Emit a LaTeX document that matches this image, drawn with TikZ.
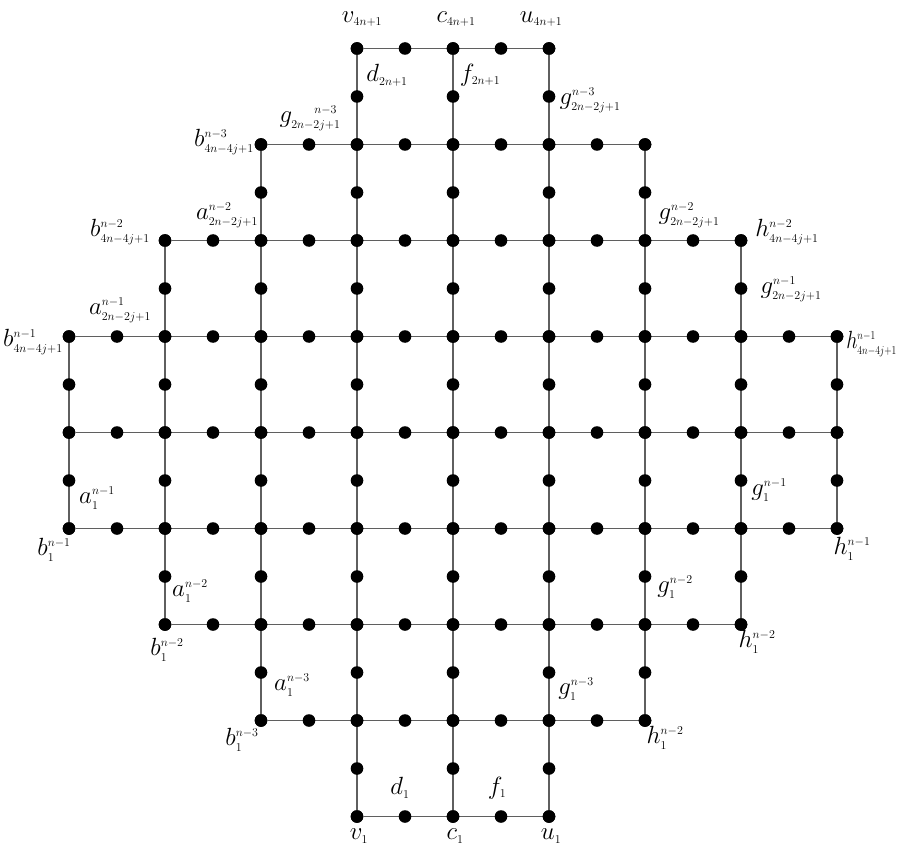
\documentclass[tikz,border=0pt]{standalone}
\usepackage{graphicx}
\DeclareMathSizes{24.88}{24.88}{12}{10}
\pgfdeclarelayer{bg}
\pgfsetlayers{bg,main}
\definecolor{edgecol}{RGB}{95,95,95}
\begin{document}
\begin{tikzpicture}[x=1pt,y=-1pt,
  dot/.style={circle,fill=black,draw=none,inner sep=0pt,minimum size=12.6pt},
  edge/.style={draw=edgecol,line width=1.25pt},
  lab/.style={inner sep=0pt,font=\fontsize{24.88}{28}\selectfont}]
\useasboundingbox (0,0) rectangle (897,845);
% dots
\foreach \k/\a/\b in {0/3/5,1/2/6,2/1/7,3/0/8,4/0/8,5/0/8,6/1/7,7/2/6,8/3/5}{
  \pgfmathtruncatemacro\Ia{2*\a}
  \pgfmathtruncatemacro\Ib{2*\b}
  \pgfmathtruncatemacro\K{2*\k}
  \foreach \I in {\Ia,...,\Ib}{
    \node[dot] (d-\I-\K) at ({69+48*\I},{48.5+48*\K}) {};
    \node[dot] (d-\K-\I) at ({69+48*\K},{48.5+48*\I}) {};
  }
}
% lines
\begin{pgfonlayer}{bg}
\foreach \k/\a/\b in {0/3/5,1/2/6,2/1/7,3/0/8,4/0/8,5/0/8,6/1/7,7/2/6,8/3/5}{
  \pgfmathtruncatemacro\Ia{2*\a}
  \pgfmathtruncatemacro\Ib{2*\b}
  \pgfmathtruncatemacro\K{2*\k}
  \draw[edge] (d-\Ia-\K) -- (d-\Ib-\K);
  \draw[edge] (d-\K-\Ia) -- (d-\K-\Ib);
}
\end{pgfonlayer}
% labels
\node[lab] (l1) at (362,19) {$v_{4n+1}$};
\node[lab] (l2) at (456,19) {$c_{4n+1}$};
\node[lab] (l3) at (541,19) {$u_{4n+1}$};
\node[lab] (l4) at (387,75) {$d_{2n+1}$};
\node[lab] (l5) at (480,75) {$f_{2n+1}$};
\node[lab] (l6) at (590,100) {$g^{n-3}_{2n-2j+1}$};
\node[lab] (l7) at (310,118) {$g^{\hphantom{2n-}n-3}_{2n-2j+1}$};
\node[lab] (l8) at (224,142) {$b^{n-3}_{4n-4j+1}$};
\node[lab] (l9) at (120,232) {$b^{n-2}_{4n-4j+1}$};
\node[lab] (l10) at (227,215) {$a^{n-2}_{2n-2j+1}$};
\node[lab] (l11) at (120,310) {$a^{n-1}_{2n-2j+1}$};
\node[lab] (l12) at (33,342) {$b^{n-1}_{4n-4j+1}$};
\node[lab] (l13) at (689,215) {$g^{n-2}_{2n-2j+1}$};
\node[lab] (l14) at (787,232) {$h^{n-2}_{4n-4j+1}$};
\node[lab] (l15) at (791,289) {$g^{n-1}_{2n-2j+1}$};
\node[lab,anchor=east] (l16) at (897,344) {\scalebox{0.8}[1]{$h^{n-1}_{4n-4j+1}$}};
\node[lab] (l17) at (97,498) {$a^{n-1}_1$};
\node[lab] (l18) at (54,550) {$b^{n-1}_1$};
\node[lab] (l19) at (190,591) {$a^{n-2}_1$};
\node[lab] (l20) at (167,650) {$b^{n-2}_1$};
\node[lab] (l21) at (769,490) {$g^{n-1}_1$};
\node[lab] (l22) at (852,549) {$h^{n-1}_1$};
\node[lab] (l23) at (675,587) {$g^{n-2}_1$};
\node[lab] (l24) at (757,642) {$h^{n-2}_1$};
\node[lab] (l25) at (292,685) {$a^{n-3}_1$};
\node[lab] (l26) at (242,740) {$b^{n-3}_1$};
\node[lab] (l27) at (576,689) {$g^{n-3}_1$};
\node[lab] (l28) at (665,738) {$h^{n-2}_1$};
\node[lab] (l29) at (400,788) {$d_1$};
\node[lab] (l30) at (497,788) {$f_1$};
\node[lab] (l31) at (359,836) {$v_1$};
\node[lab] (l32) at (455,836) {$c_1$};
\node[lab] (l33) at (551,836) {$u_1$};
\end{tikzpicture}
\end{document}
